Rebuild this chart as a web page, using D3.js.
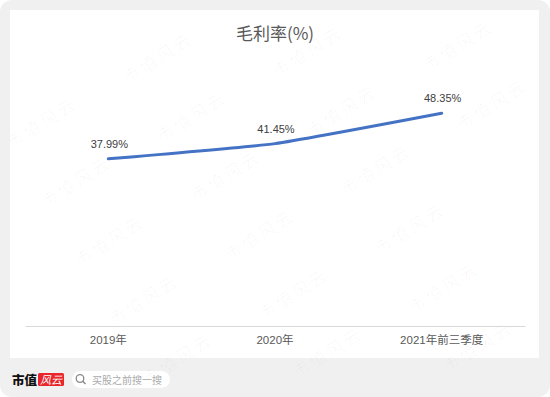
<!DOCTYPE html>
<html><head><meta charset="utf-8">
<script src="https://cdn.jsdelivr.net/npm/d3@7"></script>
<style>html,body{margin:0;padding:0;background:#fff;}svg{display:block;}</style>
</head><body>
<script>
const title = "毛利率(%)";
const categories = ["2019年", "2020年", "2021年前三季度"];
const values = [37.99, 41.45, 48.35];
const valueLabels = ["37.99%", "41.45%", "48.35%"];
const watermarkText = "市值风云";

const W = 550, H = 397;
const svg = d3.select("body").append("svg").attr("width", W).attr("height", H);
const font = "'Noto Sans CJK SC','Noto Sans',sans-serif";

// background
svg.append("rect").attr("x",0).attr("y",0).attr("width",W).attr("height",H).attr("rx",12).attr("fill","#f0f0f0");
svg.append("rect").attr("x",10).attr("y",10).attr("width",529).attr("height",348).attr("fill","#fff");

// scales
const x = d3.scaleBand().domain(categories).range([25, 525]);
const y = d3.scaleLinear().domain([0, 60]).range([326, 62]);
const cx = d => x(d) + x.bandwidth()/2;

// title
svg.append("text").attr("x",275).attr("y",40).attr("text-anchor","middle")
  .attr("font-family",font).attr("font-size",17).attr("fill","#595959").text(title);

// axis
const axis = svg.append("g").attr("transform","translate(0,326)").call(d3.axisBottom(x).tickSize(0).tickPadding(10));
axis.select(".domain").attr("stroke","#d9d9d9").attr("stroke-width",1.2);
axis.selectAll("text").attr("font-family","'Liberation Sans','Noto Sans CJK SC',sans-serif").attr("font-size",11.5).attr("fill","#595959");

// line
const pts = categories.map((c,i)=>[cx(c), y(values[i])]);
svg.append("path").attr("d", d3.line().curve(d3.curveCardinal.tension(0.6))(pts))
  .attr("fill","none").attr("stroke","#4472C4").attr("stroke-width",3).attr("stroke-linecap","round");

// data labels
svg.selectAll(".dl").data(categories).join("text").attr("class","dl")
  .attr("x",(d)=>cx(d)+1).attr("y",(d,i)=>y(values[i])-11).attr("text-anchor","middle")
  .attr("font-family","'Liberation Sans',sans-serif").attr("font-size",11).attr("fill","#404040")
  .text((d,i)=>valueLabels[i]);

// footer
const f = svg.append("g");
f.append("text").attr("x",12).attr("y",385).attr("font-family","'Noto Sans CJK SC',serif").attr("font-weight",900)
  .attr("font-size",12.5).attr("fill","#111").text("市值");
f.append("rect").attr("x",38).attr("y",373).attr("width",26).attr("height",13).attr("rx",1.5).attr("fill","#e8262c");
f.append("text").attr("x",51).attr("y",384).attr("text-anchor","middle").attr("font-family",font).attr("font-style","italic")
  .attr("font-size",11).attr("fill","#fff").text("风云");
f.append("rect").attr("x",72).attr("y",371).attr("width",98).attr("height",17).attr("rx",8.5).attr("fill","#fff");
f.append("circle").attr("cx",80).attr("cy",378.5).attr("r",3.8).attr("fill","none").attr("stroke","#888").attr("stroke-width",1.3);
f.append("line").attr("x1",82.8).attr("y1",381.3).attr("x2",85.5).attr("y2",384).attr("stroke","#888").attr("stroke-width",1.4);
f.append("text").attr("x",92).attr("y",383.5).attr("font-family",font).attr("font-size",10).attr("fill","#aaa").text("买股之前搜一搜");

// watermarks (lattice), only those that fit inside the picture
const wm = svg.append("g").attr("pointer-events","none");
const O = [158,58], A = [150,-6], B = [34,59];
for (let i=-4;i<=6;i++) for (let j=-3;j<=8;j++) {
  const px = O[0]+i*A[0]+j*B[0], py = O[1]+i*A[1]+j*B[1];
  if (px < 40 || px > W-40 || py < 26 || py > H-26) continue;
  wm.append("text").attr("transform",`translate(${px},${py}) rotate(-32)`).attr("text-anchor","middle").attr("dy","0.35em")
    .attr("font-family",font).attr("font-weight",300).attr("font-size",17).attr("letter-spacing",3)
    .attr("fill","#000").attr("fill-opacity",0.045).text(watermarkText);
}
</script>
</body></html>
